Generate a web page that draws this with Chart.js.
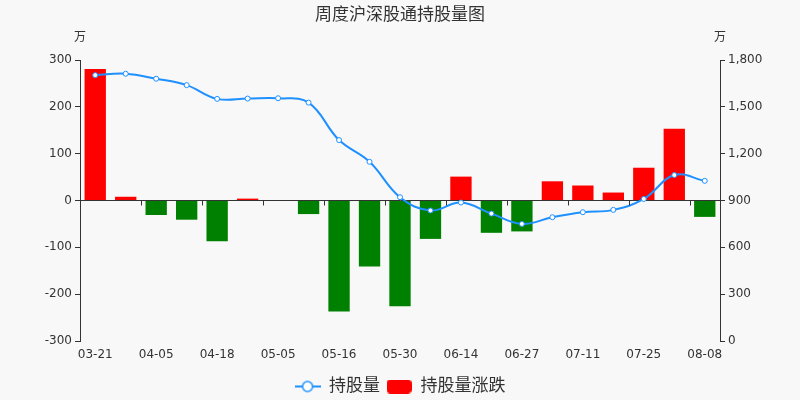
<!DOCTYPE html>
<html>
<head>
<meta charset="utf-8">
<script src="https://cdn.jsdelivr.net/npm/chart.js@4.4.1/dist/chart.umd.min.js"></script>
<style>
  html, body { margin: 0; padding: 0; background: #f8f8f8; }
  #wrap { width: 800px; height: 400px; position: relative; }
</style>
</head>
<body>
<div id="wrap"><canvas id="chart"></canvas></div>
<script>
const weeks = ["03-21", "03-28", "04-05", "04-11", "04-18", "04-25", "05-05", "05-09", "05-16", "05-23", "05-30",
  "06-06", "06-14", "06-20", "06-27", "07-04", "07-11", "07-18", "07-25", "08-01", "08-08"];
// 持股量 (万)
const holdings = [1703, 1712, 1680, 1639, 1551, 1553, 1555, 1527, 1287, 1148, 921,
  836, 887, 816, 750, 793, 825, 840, 910, 1063, 1026];
// 持股量涨跌 (万)
const changes = [281, 8, -31, -41, -87, 4, 0, -29, -237, -141, -226,
  -82, 51, -69, -66, 41, 32, 17, 70, 153, -35];
const leftTicks = [-300, 300, 100];
const rightTicks = [0, 1800, 300];

const FONT = "'DejaVu Sans', 'Noto Sans CJK SC', sans-serif";
const INK = "#333333";
const BLUE = "#1e90ff";

function lineIcon() {
  const c = document.createElement("canvas");
  c.width = 26; c.height = 14;
  const g = c.getContext("2d");
  g.strokeStyle = BLUE; g.lineWidth = 2;
  g.beginPath(); g.moveTo(0, 7); g.lineTo(26, 7); g.stroke();
  g.fillStyle = "#fff"; g.lineWidth = 1.5;
  g.beginPath(); g.arc(13, 7, 5, 0, Math.PI * 2); g.fill(); g.stroke();
  return c;
}
function boxIcon() {
  const c = document.createElement("canvas");
  c.width = 25; c.height = 14;
  const g = c.getContext("2d");
  g.fillStyle = "#ff0000";
  g.beginPath(); g.roundRect(0, 0, 25, 14, 4); g.fill();
  return c;
}

const extras = {
  id: "extras",
  afterDraw(chart) {
    const { ctx, chartArea, scales } = chart;
    ctx.save();
    ctx.fillStyle = INK;
    ctx.font = "12px " + FONT;
    ctx.textAlign = "center";
    ctx.textBaseline = "middle";
    ctx.fillText("万", chartArea.left, chartArea.top - 22);
    ctx.fillText("万", chartArea.right, chartArea.top - 22);
    // category ticks on the zero line
    const y0 = scales.y.getPixelForValue(0);
    ctx.strokeStyle = INK;
    ctx.lineWidth = 1;
    ctx.beginPath();
    for (let i = 2; i < weeks.length; i += 2) {
      const x = Math.round((scales.x.getPixelForValue(i - 1) + scales.x.getPixelForValue(i)) / 2) + 0.5;
      ctx.moveTo(x, y0);
      ctx.lineTo(x, y0 + 5);
    }
    ctx.stroke();
    ctx.restore();
  }
};

new Chart(document.getElementById("chart"), {
  data: {
    labels: weeks,
    datasets: [
      {
        type: "line",
        label: "持股量",
        data: holdings,
        yAxisID: "y1",
        order: 0,
        borderColor: BLUE,
        borderWidth: 2,
        tension: 0.4,
        pointRadius: 2.5,
        pointBorderWidth: 1,
        pointBackgroundColor: "#fff",
        pointBorderColor: BLUE,
      },
      {
        type: "bar",
        label: "持股量涨跌",
        data: changes,
        yAxisID: "y",
        order: 1,
        backgroundColor: changes.map((v) => (v >= 0 ? "#ff0000" : "#008000")),
        barPercentage: 0.7,
        categoryPercentage: 1,
      },
    ],
  },
  options: {
    responsive: true,
    maintainAspectRatio: false,
    animation: false,
    layout: { padding: { top: 0, bottom: -5, left: 0, right: 0 } },
    plugins: {
      title: {
        display: true,
        text: "周度沪深股通持股量图",
        color: INK,
        font: { family: FONT, size: 17, weight: "normal" },
        padding: { top: 5, bottom: 34.6 },
      },
      legend: {
        position: "bottom",
        labels: {
          color: INK,
          font: { family: FONT, size: 17 },
          usePointStyle: true,
          pointStyleWidth: 26,
          padding: 6,
          generateLabels: () => [
            { text: "持股量", pointStyle: lineIcon(), fontColor: INK, datasetIndex: 0, lineWidth: 0 },
            { text: "持股量涨跌", pointStyle: boxIcon(), fontColor: INK, datasetIndex: 1, lineWidth: 0 },
          ],
        },
      },
      tooltip: { enabled: false },
    },
    scales: {
      x: {
        grid: { display: false, drawTicks: false },
        border: { display: false },
        ticks: {
          color: INK,
          font: { family: FONT, size: 12 },
          autoSkip: false,
          maxRotation: 0,
          padding: 7,
          callback: (v, i) => (i % 2 === 0 ? weeks[i] : ""),
        },
        afterFit: (s) => { s.height = 31; },
      },
      y: {
        position: "left",
        min: leftTicks[0],
        max: leftTicks[1],
        ticks: { stepSize: leftTicks[2], color: INK, font: { family: FONT, size: 12 }, padding: 3 },
        grid: {
          color: (c) => (c.tick && c.tick.value === 0 ? INK : "rgba(0,0,0,0)"),
          tickColor: INK,
          tickLength: 5,
        },
        border: { color: INK },
        afterFit: (s) => { s.width = 80; },
      },
      y1: {
        position: "right",
        min: rightTicks[0],
        max: rightTicks[1],
        ticks: {
          stepSize: rightTicks[2],
          color: INK,
          font: { family: FONT, size: 12 },
          padding: 3,
          callback: (v) => v.toLocaleString("en-US"),
        },
        grid: { drawOnChartArea: false, tickColor: INK, tickLength: 5 },
        border: { color: INK },
        afterFit: (s) => { s.width = 80; },
      },
    },
  },
  plugins: [extras],
});
</script>
</body>
</html>
